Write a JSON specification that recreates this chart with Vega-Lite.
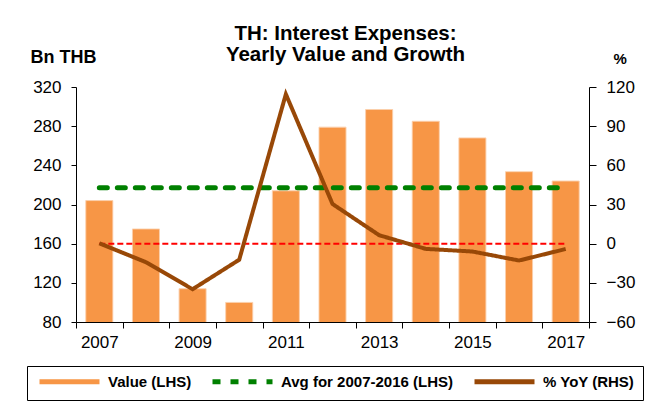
{
  "$schema": "https://vega.github.io/schema/vega-lite/v6.json",
  "width": 513,
  "height": 235,
  "autosize": {"type": "none"},
  "padding": {"left": 76, "top": 87, "right": 60, "bottom": 81},
  "background": "white",
  "config": {
    "view": {"stroke": null},
    "font": "Liberation Sans",
    "axis": {"domainColor": "black", "tickColor": "black", "labelColor": "black", "labelFont": "Liberation Sans", "labelFontSize": 17, "grid": false, "domainWidth": 1, "tickWidth": 1, "labelOverlap": false},
    "legend": {
      "orient": "none",
      "legendX": -49,
      "legendY": 279,
      "direction": "horizontal",
      "strokeColor": "black",
      "padding": 8,
      "columnPadding": 10,
      "labelFont": "Liberation Sans",
      "labelFontSize": 15,
      "labelFontWeight": "bold",
      "labelColor": "black",
      "labelLimit": 400,
      "symbolType": "M-1,0H19",
      "symbolSize": 36,
      "symbolStrokeWidth": 5,
      "labelOffset": 58
    }
  },
  "title": {
    "text": ["TH: Interest Expenses:", "Yearly Value and Growth"],
    "font": "Liberation Sans",
    "fontSize": 20.5,
    "fontWeight": "bold",
    "color": "black",
    "anchor": "middle",
    "frame": "group",
    "dx": 13,
    "dy": 21,
    "lineHeight": 21,
    "offset": 4
  },
  "data": {
    "values": [
      {"year": 2007, "value": 204, "yoy": 0.3},
      {"year": 2008, "value": 175, "yoy": -14.2},
      {"year": 2009, "value": 114, "yoy": -34.9},
      {"year": 2010, "value": 100, "yoy": -12.3},
      {"year": 2011, "value": 214, "yoy": 114.5},
      {"year": 2012, "value": 279, "yoy": 30.4},
      {"year": 2013, "value": 297, "yoy": 6.5},
      {"year": 2014, "value": 285, "yoy": -4.0},
      {"year": 2015, "value": 268, "yoy": -6.0},
      {"year": 2016, "value": 233.5, "yoy": -12.9},
      {"year": 2017, "value": 224, "yoy": -4.1}
    ]
  },
  "encoding": {
    "x": {
      "field": "year",
      "type": "ordinal",
      "scale": {"paddingInner": 0, "paddingOuter": 0},
      "axis": {
        "title": null,
        "labelAngle": 0,
        "tickBand": "extent",
        "tickSize": 6,
        "labelPadding": 6,
        "labelExpr": "datum.value % 2 == 1 ? datum.label : ''"
      }
    }
  },
  "layer": [
    {
      "layer": [
        {
          "mark": {"type": "bar", "stroke": "#FBD0AE", "strokeWidth": 1, "clip": true, "width": {"band": 0.58}},
          "encoding": {
            "y": {
              "field": "value",
              "type": "quantitative",
              "scale": {"domain": [80, 320], "zero": false, "nice": false},
              "axis": {
                "values": [80, 120, 160, 200, 240, 280, 320],
                "labelOverlap": false,
                "title": "Bn THB",
                "titleAngle": 0,
                "titleAlign": "left",
                "titleBaseline": "alphabetic",
                "titleX": -46,
                "titleY": -25,
                "titleFont": "Liberation Sans",
                "titleFontSize": 18,
                "titleFontWeight": "bold",
                "titleColor": "black",
                "tickSize": 5,
                "labelPadding": 10
              }
            },
            "color": {
              "datum": "Value (LHS)",
              "type": "nominal",
              "scale": {
                "domain": ["Value (LHS)", "Avg for 2007-2016 (LHS)", "% YoY (RHS)"],
                "range": ["#F79646", "#008000", "#984807"]
              },
              "legend": {"title": null}
            },
            "strokeDash": {
              "datum": "Value (LHS)",
              "type": "nominal",
              "scale": {
                "domain": ["Value (LHS)", "Avg for 2007-2016 (LHS)", "% YoY (RHS)"],
                "range": [[1, 0], [8, 10], [1, 0]]
              },
              "legend": {"title": null}
            }
          }
        },
        {
          "mark": {"type": "line", "strokeWidth": 5, "strokeCap": "round"},
          "encoding": {
            "y": {
              "datum": 217,
              "type": "quantitative",
              "axis": {
                "values": [80, 120, 160, 200, 240, 280, 320],
                "labelOverlap": false,
                "title": "Bn THB",
                "titleAngle": 0,
                "titleAlign": "left",
                "titleBaseline": "alphabetic",
                "titleX": -46,
                "titleY": -25,
                "titleFont": "Liberation Sans",
                "titleFontSize": 18,
                "titleFontWeight": "bold",
                "titleColor": "black",
                "tickSize": 5,
                "labelPadding": 10
              }
            },
            "color": {"datum": "Avg for 2007-2016 (LHS)", "type": "nominal", "legend": {"title": null}},
            "strokeDash": {"datum": "Avg for 2007-2016 (LHS)", "type": "nominal", "legend": {"title": null}}
          }
        }
      ]
    },
    {
      "layer": [
        {
          "mark": {"type": "line", "strokeWidth": 2, "strokeDash": [6, 3], "color": "#FF0000"},
          "encoding": {
            "y": {
              "datum": 0,
              "type": "quantitative",
              "axis": {
                "orient": "right",
                "values": [-60, -30, 0, 30, 60, 90, 120],
                "labelOverlap": false,
                "title": "%",
                "titleAngle": 0,
                "titleAlign": "left",
                "titleBaseline": "alphabetic",
                "titleX": 24,
                "titleY": -24,
                "titleFont": "Liberation Sans",
                "titleFontSize": 15,
                "titleFontWeight": "bold",
                "titleColor": "black",
                "tickSize": 7,
                "labelPadding": 10
              }
            }
          }
        },
        {
          "mark": {"type": "line", "strokeWidth": 4},
          "encoding": {
            "y": {
              "field": "yoy",
              "type": "quantitative",
              "scale": {"domain": [-60, 120], "zero": false, "nice": false},
              "axis": {
                "orient": "right",
                "values": [-60, -30, 0, 30, 60, 90, 120],
                "labelOverlap": false,
                "title": "%",
                "titleAngle": 0,
                "titleAlign": "left",
                "titleBaseline": "alphabetic",
                "titleX": 24,
                "titleY": -24,
                "titleFont": "Liberation Sans",
                "titleFontSize": 15,
                "titleFontWeight": "bold",
                "titleColor": "black",
                "tickSize": 7,
                "labelPadding": 10
              }
            },
            "color": {"datum": "% YoY (RHS)", "type": "nominal", "legend": {"title": null}},
            "strokeDash": {"datum": "% YoY (RHS)", "type": "nominal", "legend": {"title": null}}
          }
        }
      ]
    }
  ],
  "resolve": {"scale": {"y": "independent"}}
}
